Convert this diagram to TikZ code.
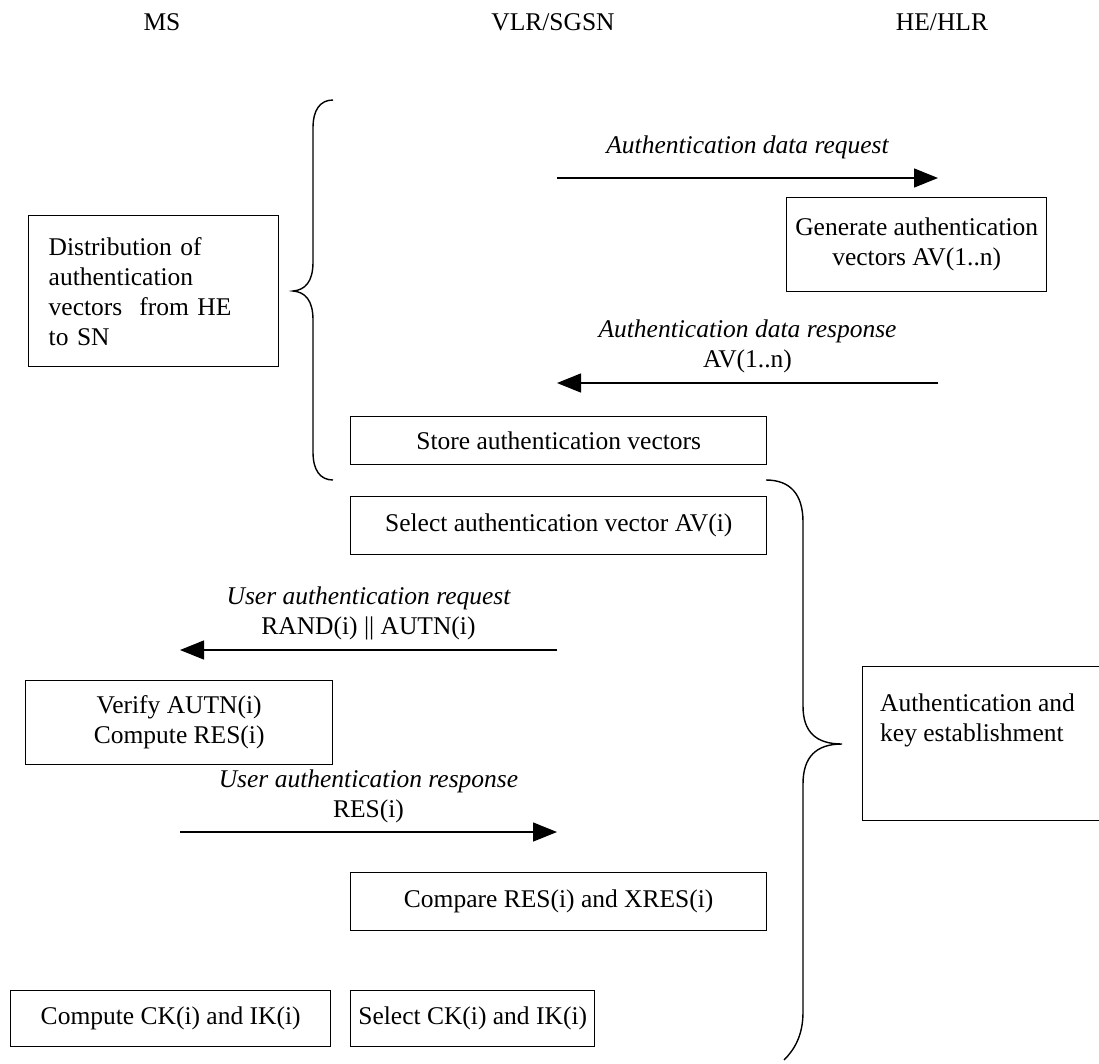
\documentclass[tikz,border=0pt]{standalone}
\usepackage{fontspec}
\setmainfont{Liberation Serif}
\usetikzlibrary{arrows.meta,positioning}

\begin{document}
\begin{tikzpicture}[x=1pt, y=-1pt,
    every node/.style={font=\fontsize{25.5}{30}\selectfont},
    box/.style={draw, line width=1.4pt, inner sep=0pt, anchor=north west},
    msg/.style={line width=1.4pt, -{Triangle[length=24pt,width=19pt]}},
    msgtext/.style={align=center, inner sep=0pt},
    brace/.style={line width=1.4pt}]
    \useasboundingbox (0,0) rectangle (1099,1063);
    % entities
    \node (ms)  at (162,22) {MS};
    \node (vlr) at (553,22) {VLR/SGSN};
    \node (hlr) at (942,22) {HE/HLR};
    % lifeline points
    \coordinate (vlrA) at (557,178);
    \coordinate (hlrA) at (938,178);
    \coordinate (hlrB) at (938,383);
    \coordinate (vlrB) at (557,383);
    \coordinate (vlrC) at (557,650);
    \coordinate (msC)  at (180,650);
    \coordinate (msD)  at (180,832);
    \coordinate (vlrD) at (557,832);
    % distribution of vectors
    \draw[msg] (vlrA) -- (hlrA)
        node[midway, above=18pt, msgtext] {\itshape Authentication data request};
    \node[box, minimum width=260pt, minimum height=94pt, align=center]
        (generate) at (786,197) {Generate authentication\\vectors AV(1..n)};
    \draw[msg] (hlrB) -- (vlrB)
        node[midway, above=9pt, msgtext] {\itshape Authentication data response\\AV(1..n)};
    \node[box, minimum width=416pt, minimum height=48pt]
        (store) at (350,416) {Store authentication vectors};
    \node[box, minimum width=247pt, minimum height=151pt, text width=210pt,
        inner xsep=20pt, align=left]
        (distrib) at (28,215) {Distribution of\\authentication\\vectors\ \ from HE\\to SN};
    \draw[brace] (333,100) .. controls (320,100) and (313,110) .. (313,128)
        -- (313,262) .. controls (313,282) and (305,290) .. (293,291)
        .. controls (305,292) and (313,300) .. (313,320)
        -- (313,452) .. controls (313,470) and (320,480) .. (333,480);
    % authentication and key establishment
    \node[box, minimum width=416pt, minimum height=58pt]
        (select) at (350,496) {Select authentication vector AV(i)};
    \draw[msg] (vlrC) -- (msC)
        node[midway, above=9pt, msgtext] {\itshape User authentication request\\RAND(i) || AUTN(i)};
    \node[box, minimum width=307pt, minimum height=84pt, align=center]
        (verify) at (25,680) {Verify AUTN(i)\\Compute RES(i)};
    \draw[msg] (msD) -- (vlrD)
        node[midway, above=8pt, msgtext] {\itshape User authentication response\\RES(i)};
    \node[box, minimum width=416pt, minimum height=58pt]
        (compare) at (350,872) {Compare RES(i) and XRES(i)};
    \node[box, minimum width=320pt, minimum height=56pt]
        (computeck) at (10,990) {Compute CK(i) and IK(i)};
    \node[box, minimum width=244pt, minimum height=56pt]
        (selectck) at (350,990) {Select CK(i) and IK(i)};
    \node[box, minimum width=260pt, minimum height=154pt] (authkey) at (862,666) {};
    \node[anchor=north west, align=left, inner sep=0pt]
        (authtext) at ([xshift=18pt, yshift=-28pt]authkey.north west)
        {Authentication and\\key establishment};
    \draw[brace] (766,480) .. controls (790,480) and (803,494) .. (803,522)
        -- (803,706) .. controls (803,732) and (816,744) .. (842,744)
        .. controls (816,744) and (803,757) .. (803,784)
        -- (803,1012) .. controls (803,1036) and (794,1050) .. (784,1060);
\end{tikzpicture}
\end{document}
